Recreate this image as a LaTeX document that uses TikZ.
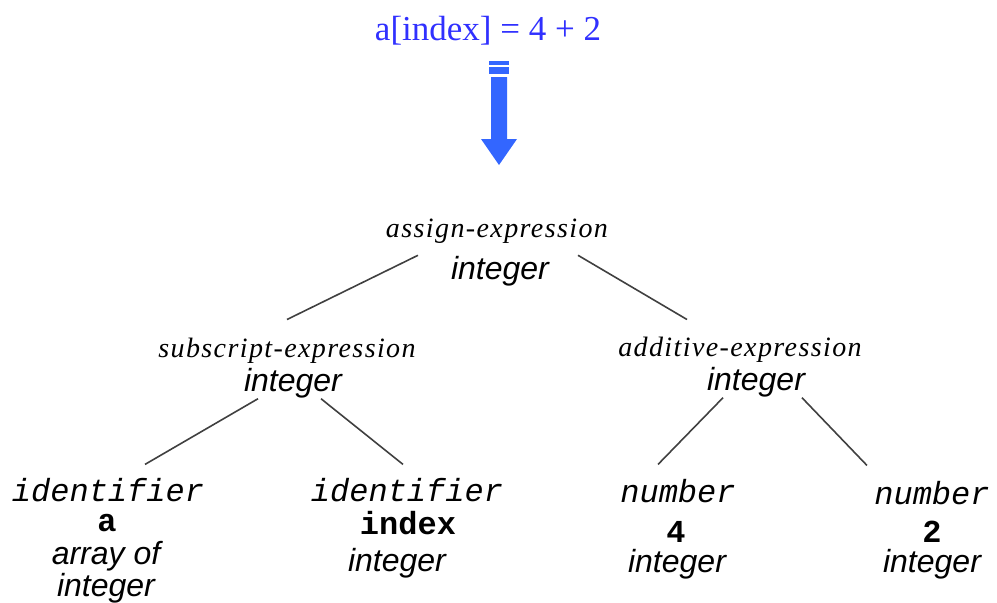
\documentclass[tikz,border=0pt]{standalone}
\usepackage{fontspec}
\setmainfont{Liberation Serif}
\setsansfont{Liberation Sans}
\setmonofont{Liberation Mono}
\definecolor{srcblue}{RGB}{48,48,255}
\definecolor{passblue}{RGB}{51,102,255}

\begin{document}
\begin{tikzpicture}[x=1pt,y=-1pt,inner sep=0pt,draw=black!75,line width=1.6pt]
    \tikzstyle{production}=[font=\fontsize{28}{32}\selectfont\itshape\addfontfeature{LetterSpace=5}]
    \tikzstyle{typename}=[font=\sffamily\fontsize{32}{32}\selectfont\itshape, align=center]
    \tikzstyle{token}=[font=\ttfamily\fontsize{32}{36}\selectfont\itshape]
    \tikzstyle{lexeme}=[font=\ttfamily\fontsize{32}{36}\selectfont\bfseries]

    \useasboundingbox (0,0) rectangle (997,603);

    %%% SOURCE LINE AND ARROW
    \node[font=\fontsize{35}{40}\selectfont, text=srcblue] (src) at (488,31) {a[index] = 4 + 2};
    \coordinate (pass) at (499,61);
    \begin{scope}[shift={(pass)}]
        \fill[passblue] (-10,0) rectangle (10,4);
        \fill[passblue] (-10,6) rectangle (10,13);
        \fill[passblue] (-8,16) -- (8,16) -- (8,78) -- (18,78) -- (0,104) -- (-18,78) -- (-8,78) -- cycle;
    \end{scope}

    %%% DRAW THE NODES
    \node[production] (assign) at (497,231) {assign-expression};
    \node[typename] (assignT) at (500,271) {integer};

    \node[production] (sub) at (287,351) {subscript-expression};
    \node[typename] (subT) at (293,383) {integer};
    \node[production] (add) at (740,350) {additive-expression};
    \node[typename] (addT) at (756,382) {integer};

    \node[token] (id1) at (108,490) {identifier};
    \node[lexeme] (id1V) at (107,523) {a};
    \node[typename] (id1T) at (106,572) {array of\\integer};

    \node[token] (id2) at (407,490) {identifier};
    \node[lexeme] (id2V) at (408,523) {index};
    \node[typename] (id2T) at (397,563) {integer};

    \node[token] (num1) at (678,491) {number};
    \node[lexeme] (num1V) at (676,532) {4};
    \node[typename] (num1T) at (677,564) {integer};

    \node[token] (num2) at (932,493) {number};
    \node[lexeme] (num2V) at (932,532) {2};
    \node[typename] (num2T) at (932,564) {integer};

    %%% DRAW THE PATHS
    \draw ([xshift=-82pt]assignT.north) -- ([yshift=18pt]sub.north);
    \draw ([xshift=78pt]assignT.north) -- ([xshift=-53pt,yshift=17pt]add.north);

    \draw ([xshift=-35pt]subT.south) -- ([xshift=37pt,yshift=13pt]id1.north);
    \draw ([xshift=28pt]subT.south) -- ([xshift=-4pt,yshift=13pt]id2.north);

    \draw ([xshift=-33pt]addT.south) -- ([xshift=-20pt,yshift=14pt]num1.north);
    \draw ([xshift=46pt]addT.south) -- ([xshift=-65pt,yshift=15pt]num2.north);
\end{tikzpicture}
\end{document}
